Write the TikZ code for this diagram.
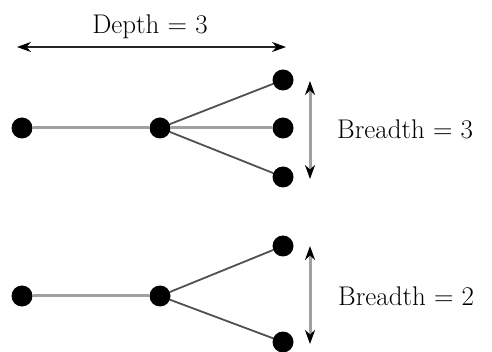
\documentclass[tikz,border=0pt]{standalone}
\usetikzlibrary{arrows.meta}
\definecolor{edgegray}{RGB}{160,160,160}
\definecolor{edgedark}{RGB}{80,80,80}
\tikzset{
  vertex/.style={circle,fill=black,inner sep=0pt,minimum size=21pt},
  flatedge/.style={edgegray,line width=3pt},
  slantedge/.style={edgedark,line width=1.8pt},
  measure/.style={{Stealth[length=14pt,width=10pt,black]}-{Stealth[length=14pt,width=10pt,black]}},
  label/.style={font=\fontsize{27}{30}\selectfont,inner sep=0pt}
}
\begin{document}
\begin{tikzpicture}[x=1pt,y=-1pt]
  \useasboundingbox (0,0) rectangle (492,352);
  % upper tree
  \node[vertex] (a0) at (22,128) {};
  \node[vertex] (a1) at (160,128) {};
  \node[vertex] (a2) at (283,80) {};
  \node[vertex] (a3) at (283,128) {};
  \node[vertex] (a4) at (283,177) {};
  \draw[flatedge] (a0) -- (a1);
  \draw[flatedge] (a1) -- (a3);
  \draw[slantedge] (a1) -- (a2);
  \draw[slantedge] (a1) -- (a4);
  % lower tree
  \node[vertex] (b0) at (22,296) {};
  \node[vertex] (b1) at (160,296) {};
  \node[vertex] (b2) at (283,246) {};
  \node[vertex] (b3) at (283,342) {};
  \draw[flatedge] (b0) -- (b1);
  \draw[slantedge] (b1) -- (b2);
  \draw[slantedge] (b1) -- (b3);
  % depth
  \coordinate (dl) at (17,47);
  \coordinate (dr) at (286,47);
  \draw[measure,black!85,line width=1.6pt] (dl) -- (dr);
  \node[label] (depth) at (150,27) {Depth = 3};
  % breadth
  \coordinate (ut) at (310,81);
  \coordinate (ub) at (310,179);
  \draw[measure,edgegray,line width=3pt] (ut) -- (ub);
  \node[label,anchor=west] (wide3) at (337,129) {Breadth = 3};
  \coordinate (lt) at (310,246);
  \coordinate (lb) at (310,344);
  \draw[measure,edgegray,line width=3pt] (lt) -- (lb);
  \node[label,anchor=west] (wide2) at (338,296) {Breadth = 2};
\end{tikzpicture}
\end{document}
